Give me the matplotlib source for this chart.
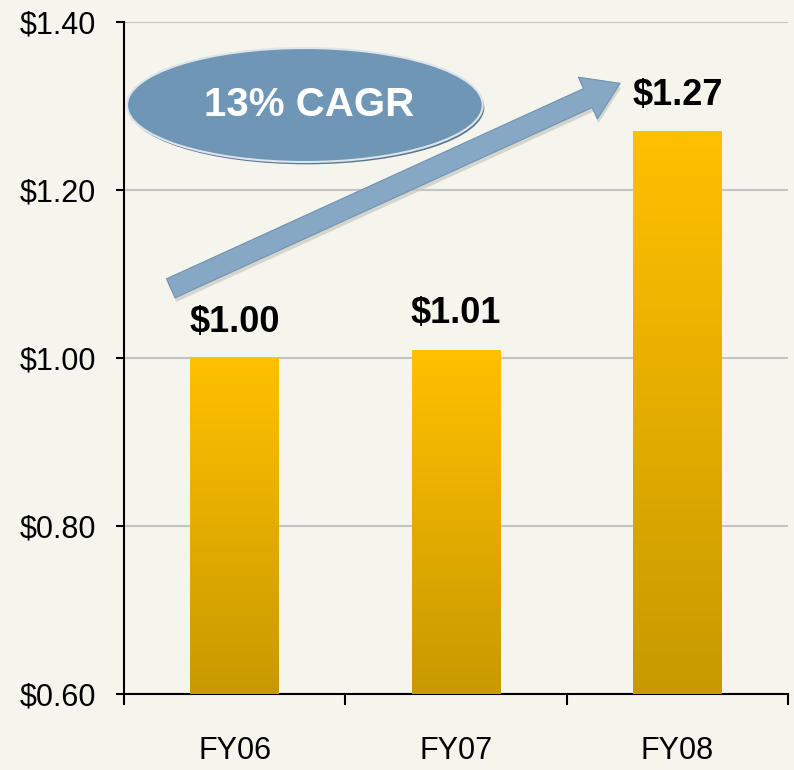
import numpy as np
import matplotlib.pyplot as plt
from matplotlib.patches import Ellipse, FancyArrowPatch
from matplotlib.colors import LinearSegmentedColormap

years = ["FY06", "FY07", "FY08"]
eps = [1.00, 1.01, 1.27]
yticks = [0.60, 0.80, 1.00, 1.20, 1.40]
cagr_text = "13% CAGR"

bg = "#f5f5ee"
narrow = ["Liberation Sans Narrow", "Liberation Sans", "DejaVu Sans"]

fig = plt.figure(figsize=(7.94, 7.70), dpi=100, facecolor=bg)
ax = fig.add_axes([0.156, 0.0987, 0.8367, 0.8727])
ax.set_facecolor(bg)

x = np.arange(len(years))
bars = ax.bar(x, [v - 0.6 for v in eps], bottom=0.6, width=0.4, color="#e5b000", zorder=2)

# vertical gold gradient on each bar
gold = LinearSegmentedColormap.from_list("gold", ["#c89a00", "#ffc000"])
grad = np.linspace(0, 1, 256).reshape(-1, 1)
for b in bars:
    x0, y0 = b.get_x(), b.get_y()
    im = ax.imshow(grad, cmap=gold, origin="lower", aspect="auto", zorder=3,
                   extent=(x0, x0 + b.get_width(), y0, y0 + b.get_height()))
    im.set_clip_path(b)

for xi, v in zip(x, eps):
    ax.text(xi, v + 0.022, f"${v:.2f}", ha="center", va="bottom", fontsize=26,
            fontweight="bold", family=narrow, color="black", zorder=5)

ax.set_xlim(-0.5, 2.5)
ax.set_ylim(0.6, 1.4)
ax.set_yticks(yticks)
ax.set_yticklabels([f"${t:.2f}" for t in yticks], family=narrow, fontsize=22)
ax.set_xticks(x)
ax.set_xticklabels(years, family=narrow, fontsize=22)
ax.set_xticks([-0.5, 0.5, 1.5, 2.5], minor=True)
ax.tick_params(axis="x", which="major", length=0, pad=30)
ax.tick_params(axis="x", which="minor", length=8, width=1.5, direction="out")
ax.tick_params(axis="y", length=6, width=1.5, pad=14)
ax.grid(axis="y", color="#c4c4c4", linewidth=1.5, zorder=1)
ax.set_axisbelow(True)
for s in ["top", "right"]:
    ax.spines[s].set_visible(False)
ax.spines["left"].set_linewidth(1.5)
ax.spines["bottom"].set_linewidth(1.5)

# growth arrow (with a soft shadow)
style = "simple,head_length=1.7,head_width=2.2,tail_width=1.0"
shadow = FancyArrowPatch((-0.283, 1.078), (1.746, 1.322), arrowstyle=style,
                         mutation_scale=15, color="#c8c8c0", lw=0, zorder=5,
                         shrinkA=0, shrinkB=0, alpha=0.7)
ax.add_patch(shadow)
arrow = FancyArrowPatch((-0.288, 1.083), (1.741, 1.327), arrowstyle=style,
                        mutation_scale=15, color="#86a8c5", ec="#6f93b2", lw=0.8,
                        zorder=6, shrinkA=0, shrinkB=0)
ax.add_patch(arrow)

# CAGR ellipse
shade = Ellipse((0.386, 0.8606), 0.448, 0.148, transform=fig.transFigure,
                facecolor="#5a7791", edgecolor="none", zorder=6)
fig.patches.append(shade)
ell = Ellipse((0.384, 0.8636), 0.448, 0.148, transform=fig.transFigure,
              facecolor="#7096b6", edgecolor="#dde4ea", linewidth=1.5, zorder=7)
fig.patches.append(ell)
fig.text(0.389, 0.8636, cagr_text, ha="center", va="center", color="white",
         fontsize=29, fontweight="bold", family=["Liberation Sans", "DejaVu Sans"],
         zorder=9)

fig.savefig("out.png", dpi=100, facecolor=bg)
